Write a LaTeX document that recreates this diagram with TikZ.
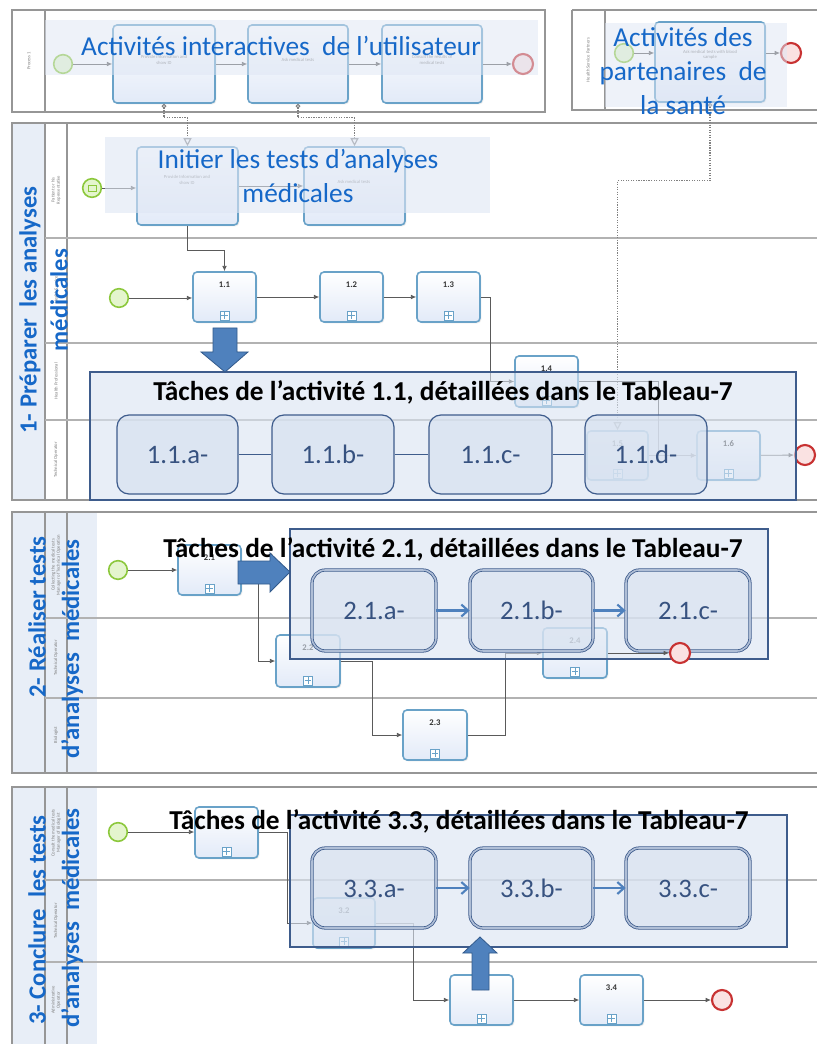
\documentclass[tikz,border=0pt]{standalone}
\usepackage{fontspec}
\setmainfont{Carlito}
\usetikzlibrary{arrows.meta,shadows}
\definecolor{ttl}{RGB}{22,104,200}
\definecolor{poolc}{RGB}{150,150,150}
\definecolor{laneC}{RGB}{178,178,178}
\definecolor{hdr}{RGB}{232,238,247}
\definecolor{band}{RGB}{222,230,244}
\definecolor{tbd}{RGB}{105,162,200}
\definecolor{tfill}{RGB}{226,234,248}
\definecolor{ovl}{RGB}{62,92,140}
\definecolor{ovf}{RGB}{218,228,242}
\definecolor{sbf}{RGB}{216,226,240}
\definecolor{sbt}{RGB}{55,82,128}
\definecolor{dblC}{RGB}{175,190,214}
\definecolor{bigC}{RGB}{79,129,189}
\definecolor{bigD}{RGB}{50,90,140}
\definecolor{stG}{RGB}{140,200,60}
\definecolor{stF}{RGB}{228,245,205}
\definecolor{enR}{RGB}{200,50,50}
\definecolor{enF}{RGB}{250,226,226}
\definecolor{flowC}{RGB}{90,90,90}
\tikzset{
 pool/.style={draw=poolc, line width=0.8pt},
 lane/.style={draw=laneC, line width=1.4pt},
 task/.style={draw=tbd, line width=1.2pt, rounded corners=3pt, top color=white, bottom color=tfill, inner sep=0pt,
   drop shadow={opacity=0.15, shadow xshift=1pt, shadow yshift=-1pt}},
 startev/.style={circle, draw=stG, fill=stF, line width=1.2pt, minimum size=14pt, inner sep=0pt},
 endev/.style={circle, draw=enR, fill=enF, line width=1.6pt, minimum size=15pt, inner sep=0pt},
 flow/.style={draw=flowC, line width=0.6pt, -{Latex[length=4pt,width=3.5pt]}},
 msg/.style={draw=gray, densely dotted, line width=0.9pt, {Circle[open,length=3.5pt,width=3.5pt]}-{Triangle[open,length=6pt,width=6pt]}},
 ttltxt/.style={text=ttl, font=\fontsize{20.5}{25}\selectfont, align=center},
 stitle/.style={text=ttl, font=\bfseries\fontsize{18.5}{20}\selectfont, rotate=90},
 tsmall/.style={font=\fontsize{3.5}{4}\selectfont, text=gray, align=center},
 lanelbl/.style={font=\fontsize{3.5}{4}\selectfont, text=gray, align=center, rotate=90},
 tnum/.style={font=\bfseries\fontsize{6.5}{7}\selectfont, text=black!80},
 pmark/.style={draw=tbd, fill=white, minimum size=7pt, inner sep=0pt,
   path picture={\draw[tbd, line width=0.7pt] (path picture bounding box.center) +(-2.3pt,0) -- +(2.3pt,0)
     (path picture bounding box.center) +(0,-2.3pt) -- +(0,2.3pt);}},
 envl/.style={draw=stG, line width=0.5pt, minimum width=6pt, minimum height=4.5pt, inner sep=0pt},
 ovbox/.style={draw=ovl, line width=1pt, fill=ovf, fill opacity=0.6, text opacity=1, inner sep=0pt},
 sbox/.style={draw=ovl, line width=0.9pt, rounded corners=9pt, fill=sbf, fill opacity=0.7, text opacity=1, text=sbt,
   font=\fontsize{20}{22}\selectfont, text height=13.5pt, text depth=0pt},
 dbox/.style={draw=ovl, double=dblC, double distance=1.2pt, line width=0.6pt, rounded corners=10pt, fill=sbf, fill opacity=0.6,
   text opacity=1, text=sbt, font=\fontsize{20}{22}\selectfont, text height=13.5pt, text depth=0pt},
 ovtitle/.style={font=\bfseries\fontsize{20.5}{22}\selectfont, text=black},
 subarrow/.style={draw=bigC, line width=1.6pt, -{Straight Barb[length=5pt,width=9pt]}},
 subline/.style={draw=ovl, line width=0.9pt},
 barrow/.style={fill=bigC, draw=bigD, line width=0.6pt},
}
% box by corners: [style]{x1}{y1}{x2}{y2}{name}{text}
\newcommand\boxat[7][]{\node[#1, minimum width={(#4-#2)*0.75pt}, minimum height={(#5-#3)*0.75pt}] (#6) at ({(#2+#4)/2},{(#3+#5)/2}) {#7};}
\newcommand\subp[6]{\boxat[task]{#1}{#2}{#3}{#4}{#5}{}
  \node[tnum] (#5n) at ([yshift=-10pt]#5.north) {#6};
  \node[pmark] (#5m) at ([yshift=5.5pt]#5.south) {};}
\begin{document}
\begin{tikzpicture}[x=0.75pt,y=-0.75pt]
\useasboundingbox (0,0) rectangle (816,1044);
\fill[white] (0,0) rectangle (816,1044);

% ---------------- top pools ----------------
\draw[pool] (12,10) rectangle (545,112);
\draw[pool] (45,10) -- (45,112);
\node[lanelbl] (lp1) at (29,61) {Process 1};
\draw[pool] (572,10) -- (830,10) (572,10) -- (572,110) -- (830,110);
\draw[pool] (605,10) -- (605,110);
\node[lanelbl] (lp2) at (588,60) {Health Service Partners};

% ---------------- section 1 ----------------
\fill[hdr] (12,123) rectangle (45,500);
\draw[pool] (12,123) rectangle (830,500);
\draw[pool] (45,123) -- (45,500) (67,123) -- (67,500);
\draw[lane] (45,238) -- (830,238) (45,343) -- (830,343) (45,420) -- (830,420);
\node[lanelbl] (l11) at (56,190) {Patient or his\\Representative};
\node[lanelbl] (l12) at (56,290) {Health Service};
\node[lanelbl] (l13) at (56,381) {Health Professional};
\node[lanelbl] (l14) at (56,460) {Technical Operator};

% ---------------- section 2 ----------------
\fill[hdr] (12,512) rectangle (97,773);
\draw[pool] (12,512) rectangle (830,773);
\draw[pool] (45,512) -- (45,773) (67,512) -- (67,773);
\draw[lane] (45,618) -- (830,618) (45,698) -- (830,698);
\node[lanelbl] (l21) at (56,565) {Collecting the medical tests\\Manager of Technical Operation};
\node[lanelbl] (l22) at (56,658) {Technical Operator};
\node[lanelbl] (l23) at (56,735) {Biologist};

% ---------------- section 3 ----------------
\fill[hdr] (12,787) rectangle (97,1044);
\draw[pool] (12,787) rectangle (830,1060);
\draw[pool] (45,787) -- (45,1044) (67,787) -- (67,1044);
\draw[lane] (45,880) -- (830,880) (45,962) -- (830,962);
\node[lanelbl] (l31) at (56,833) {Consult the medical tests\\Manager of Biologist};
\node[lanelbl] (l32) at (56,921) {Technical Operator};
\node[lanelbl] (l33) at (56,1000) {Administrative\\Operator};

% ---------------- top pool elements ----------------
\node[startev] (s0) at (63,64) {};
\boxat[task]{113}{25}{215}{103}{u1}{}
\boxat[task]{248}{25}{348}{103}{u2}{}
\boxat[task]{382}{25}{482}{103}{u3}{}
\node[endev] (e0) at (523,64) {};
\node[tsmall] at (164,60) {Provide information and\\show ID};
\node[tsmall] at (298,60) {Ask medical tests};
\node[tsmall] at (432,60) {Consult the results of\\medical tests};
\draw[flow] (s0) -- (u1);
\draw[flow] (u1) -- (u2);
\draw[flow] (u2) -- (u3);
\draw[flow] (u3) -- (e0);

\node[startev] (s00) at (624,53) {};
\boxat[task]{655}{22}{765}{102}{pt}{}
\node[endev] (e00) at (791,53) {};
\node[tsmall] at (710,55) {Ask medical tests with blood\\sample};
\draw[flow] (s00) -- (pt.west |- s00);
\draw[flow] (pt.east |- e00) -- (e00);

% ---------------- section 1 elements ----------------
\node[startev] (s1a) at (92,188) {};
\node[envl] (s1ai) at (s1a) {};
\boxat[task]{137}{147}{238}{225}{pi}{}
\boxat[task]{304}{147}{405}{225}{at}{}
\node[tsmall] at (187,180) {Provide Information and\\show ID};
\node[tsmall] at (354,182) {Ask medical tests};
\draw[flow] (s1a) -- (pi.west |- s1a);
\draw[flow] (pi.east |- at.west) -- (at.west);

\node[startev] (s1) at (119,298) {};
\subp{193}{272}{256}{322}{t11}{1.1}
\subp{320}{272}{383}{322}{t12}{1.2}
\subp{417}{272}{480}{322}{t13}{1.3}
\subp{515}{356}{578}{407}{t14}{1.4}
\subp{587}{431}{648}{480}{t15}{1.5}
\subp{697}{431}{760}{480}{t16}{1.6}
\node[endev] (e1) at (805,455) {};
\coordinate (j14) at (658,381.5);
\draw[flow] (s1) -- (t11.west |- s1);
\draw[flow] (t11) -- (t12);
\draw[flow] (t12) -- (t13);
\draw[flow] (pi.south) -- ++(0,25) -| (t11.north);
\draw[flow] (t13.east) -- ++(10,0) |- (t14.west);
\draw[flow] (t14.east) -- (j14) |- (t16.west);
\draw[flow] (t15) -- (t16);
\draw[flow] (t16) -- (e1);

% message flows
\draw[msg] (u1.south) -- ++(0,14) -| (pi.north);
\draw[msg] (u2.south) -- ++(0,14) -| (at.north);
\draw[msg] (pt.south) -- ++(0,78) -| (t15.north);

% ---------------- section 2 elements ----------------
\node[startev] (s2) at (118,570) {};
\subp{178}{545}{241}{595}{t21}{2.1}
\subp{276}{635}{340}{687}{t22}{2.2}
\subp{403}{710}{467}{760}{t23}{2.3}
\subp{543}{628}{607}{678}{t24}{2.4}
\draw[flow] (s2) -- (t21.west |- s2);
\draw[flow] (t21.east) -- ++(17,0) |- (t22.west);
\draw[flow] (t22.east) -- ++(32,0) |- (t23.west);
\draw[flow] (t23.east) -- ++(38,0) |- (t24.west);

% ---------------- section 3 elements ----------------
\node[startev] (s3) at (118,832) {};
\subp{195}{807}{258}{858}{t31}{3.1}
\subp{313}{898}{375}{948}{t32}{3.2}
\subp{450}{975}{513}{1025}{t33}{3.3}
\subp{580}{975}{643}{1025}{t34}{3.4}
\node[endev] (e3) at (722,1000) {};
\draw[flow] (s3) -- (t31.west |- s3);
\draw[flow] (t31.east) -- ++(29,0) |- (t32.west);
\draw[flow] (t32.east) -- ++(38,0) |- (t33.west);
\draw[flow] (t33) -- (t34);
\draw[flow] (t34) -- (e3);

% ---------------- blue titles with bands ----------------
\fill[band, fill opacity=0.5] (45,20) rectangle (538,75);
\node[ttltxt] (tt1) at (281,46) {Activités interactives\ \ de l'utilisateur};
\fill[band, fill opacity=0.5] (605,23) rectangle (787,107);
\node[ttltxt, font=\fontsize{20.5}{25.5}\selectfont] (tt2) at (683,71) {Activités des\\partenaires\ \ de\\la santé};
\fill[band, fill opacity=0.6] (105,137) rectangle (490,213);
\node[ttltxt, font=\fontsize{20.5}{25}\selectfont] (tt3) at (298,176) {Initier les tests d’analyses\\médicales};

\node[stitle] (st1a) at (30,310) {1- Préparer\ \ les analyses};
\node[stitle] (st1b) at (59,300) {médicales};
\node[stitle] (st2a) at (37,617) {2- Réaliser tests};
\node[stitle] (st2b) at (72,649) {d'analyses\ \ médicales};
\node[stitle] (st3a) at (37,920) {3- Conclure\ \ les tests};
\node[stitle] (st3b) at (72,918) {d'analyses\ \ médicales};

% ---------------- overlay 1 ----------------
\boxat[ovbox]{90}{372}{796}{500}{ov1}{}
\node[ovtitle] (ot1) at (443,392) {Tâches de l’activité 1.1, détaillées dans le Tableau-7};
\boxat[sbox]{117}{415}{238}{494}{a1}{1.1.a-}
\boxat[sbox]{272}{415}{394}{494}{b1}{1.1.b-}
\boxat[sbox]{429}{415}{552}{494}{c1}{1.1.c-}
\boxat[sbox]{585}{415}{707}{494}{d1}{1.1.d-}
\draw[subline] (a1) -- (b1);
\draw[subline] (b1) -- (c1);
\draw[subline] (c1) -- (d1);

% ---------------- overlay 2 ----------------
\boxat[ovbox]{290}{529}{768}{659}{ov2}{}
\boxat[dbox]{312}{570}{436}{651}{a2}{2.1.a-}
\boxat[dbox]{470}{570}{593}{651}{b2}{2.1.b-}
\boxat[dbox]{626}{570}{750}{651}{c2}{2.1.c-}
\draw[subarrow] (a2) -- (b2);
\draw[subarrow] (b2) -- (c2);
\node[ovtitle] (ot2) at (453,549) {Tâches de l’activité 2.1, détaillées dans le Tableau-7};
\node[endev] (e2) at (680,653) {};
\draw[flow] (t24) -- (e2);

% ---------------- overlay 3 ----------------
\boxat[ovbox]{290}{815}{787}{947}{ov3}{}
\boxat[dbox]{312}{848}{436}{928}{a3}{3.3.a-}
\boxat[dbox]{470}{848}{593}{928}{b3}{3.3.b-}
\boxat[dbox]{626}{848}{750}{928}{c3}{3.3.c-}
\draw[subarrow] (a3) -- (b3);
\draw[subarrow] (b3) -- (c3);
\node[ovtitle] (ot3) at (459,821) {Tâches de l’activité 3.3, détaillées dans le Tableau-7};

% ---------------- big arrows ----------------
\draw[barrow] (213,328) -- (237,328) -- (237,352) -- (248,352) -- (225,372) -- (201,352) -- (213,352) -- cycle;
\draw[barrow] (238,561) -- (270,561) -- (270,553) -- (290,572) -- (270,592) -- (270,584) -- (238,584) -- cycle;
\draw[barrow] (472,990) -- (472,953) -- (463,953) -- (480,937) -- (497,953) -- (489,953) -- (489,990) -- cycle;
\end{tikzpicture}
\end{document}
